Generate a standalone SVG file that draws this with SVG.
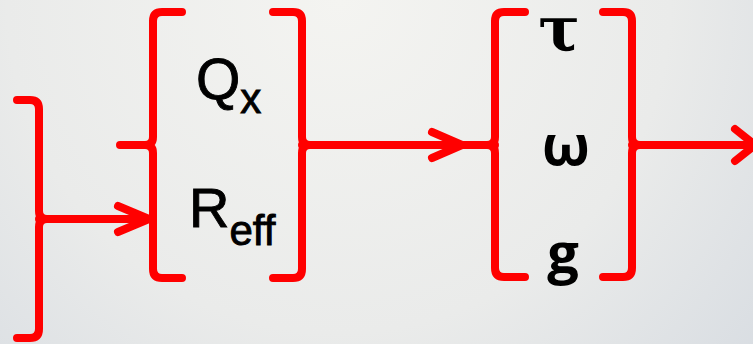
<svg xmlns="http://www.w3.org/2000/svg" width="753" height="344" viewBox="0 0 753 344">
  <defs>
    <radialGradient id="bg" cx="0.45" cy="0" r="1.1" gradientUnits="objectBoundingBox" gradientTransform="translate(0.45 0) scale(1 2.2) translate(-0.45 0)">
      <stop offset="0" stop-color="#f4f4f1"/>
      <stop offset="0.4" stop-color="#eaebea"/>
      <stop offset="1" stop-color="#c2cbd8"/>
    </radialGradient>
    <style>
      .br { fill: none; stroke: #ff0000; stroke-width: 8; stroke-linecap: round; stroke-linejoin: round; }
      .lat { font-family: "Liberation Sans", Arial, sans-serif; fill: #000; stroke: #000; stroke-width: 0.9; }
      .gr { font-family: "Open Sans", "Noto Sans", sans-serif; font-weight: bold; fill: #000; font-size: 56px; text-anchor: middle; }
      .tau { font-family: "DejaVu Serif", serif; font-weight: bold; fill: #000; font-size: 62px; text-anchor: middle; }
    </style>
  </defs>
  <rect width="753" height="344" fill="url(#bg)"/>

  <g id="input">
    <path class="br" d="M17,100 H30 Q39,100 39,109 V211 Q39,219 47,219 M47,219 Q39,219 39,227 V329 Q39,338 30,338 H17"/>
  </g>

  <g id="node-q-reff">
    <path class="br" d="M182,12 H162 Q153,12 153,21 V137 Q153,145 145,145 H120 M145,145 Q153,145 153,153 V269 Q153,278 162,278 H182"/>
    <path class="br" d="M273,12 H293 Q302,12 302,21 V137 Q302,145 310,145 M310,145 Q302,145 302,153 V269 Q302,278 293,278 H273"/>
    <text class="lat" x="196" y="99" font-size="57">Q<tspan font-size="42" dy="14">x</tspan></text>
    <text class="lat" x="189" y="227" font-size="56">R<tspan font-size="42" dy="18">eff</tspan></text>
  </g>

  <g id="node-tau-omega-g">
    <path class="br" d="M525,12 H504 Q495,12 495,21 V137 Q495,145 487,145 M487,145 Q495,145 495,153 V268 Q495,277 504,277 H525"/>
    <path class="br" d="M603,12 H623 Q632,12 632,21 V137 Q632,145 640,145 M640,145 Q632,145 632,153 V268 Q632,277 623,277 H603"/>
    <text class="tau" x="559" y="50">τ</text>
    <text class="gr" x="566" y="165">ω</text>
    <text class="gr" x="563" y="273">g</text>
  </g>

  <g id="connectors">
    <path class="br" d="M39,219 H150 M118,206 L149,219 L118,232"/>
    <path class="br" d="M302,145 H495 M432,132 L462,145 L432,158"/>
    <path class="br" d="M632,145 H757 M735,129 L755,145 L735,161"/>
  </g>
</svg>
